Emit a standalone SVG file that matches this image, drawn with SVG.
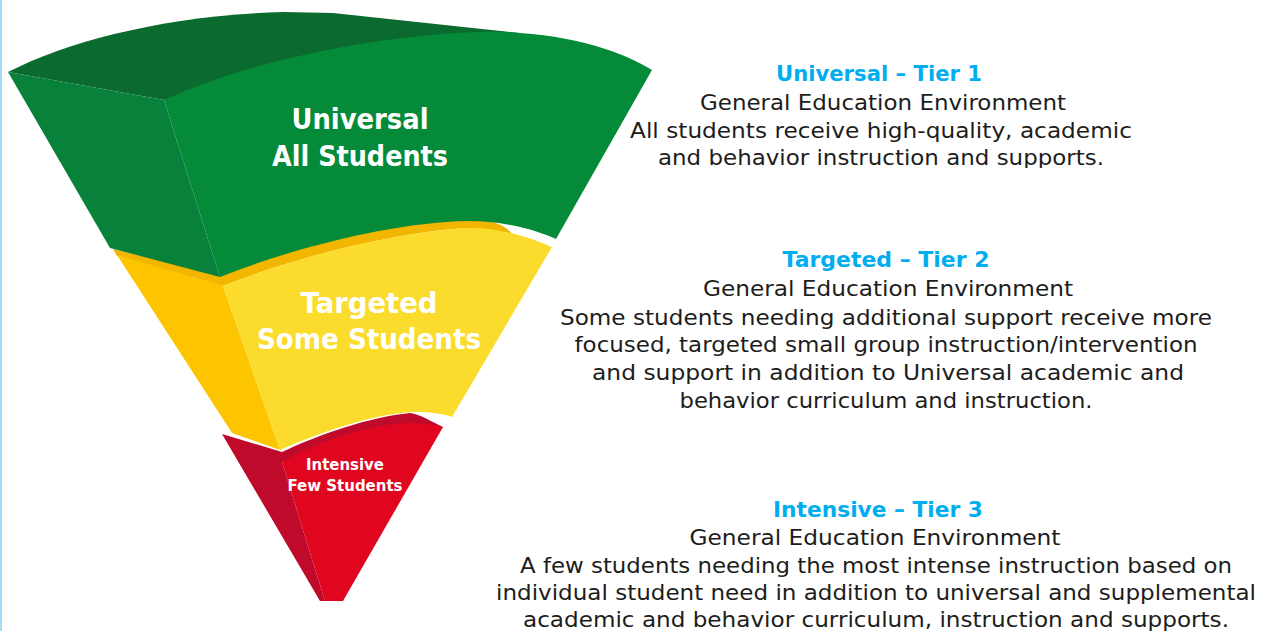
<svg xmlns="http://www.w3.org/2000/svg" width="1264" height="631" viewBox="0 0 1264 631">
<style>
.lbl{font-family:"DejaVu Sans","Liberation Sans",sans-serif;font-weight:bold;fill:#ffffff;text-anchor:middle}
.hd{font-family:"DejaVu Sans","Liberation Sans",sans-serif;font-weight:bold;fill:#00AEEF;font-size:22px;text-anchor:middle}
.bd{font-family:"DejaVu Sans","Liberation Sans",sans-serif;fill:#1d1d1b;font-size:21px;text-anchor:middle}
</style>
<defs>
<clipPath id="clip1"><rect x="0" y="0" width="1264" height="168"/></clipPath>
</defs>
<rect x="0" y="0" width="1264" height="631" fill="#ffffff"/>
<rect x="0" y="0" width="2" height="631" fill="#A3DBF4"/>

<g id="tier3-intensive">
<path d="M222,434 L282,452 C320,434 370,417 410,413 C420,414 432,422 443,427 L282,462 L325,601 L320,601 Z" fill="#BF0A2B"/>
<path d="M282,462 C320,440 370,424 410,423 C425,423 435,425 443,427 L343,601 L325,601 Z" fill="#E1061F"/>
<text class="lbl" x="345" y="470" font-size="15" textLength="78" lengthAdjust="spacingAndGlyphs">Intensive</text>
<text class="lbl" x="345" y="491" font-size="15" textLength="115" lengthAdjust="spacingAndGlyphs">Few Students</text>
</g>

<g id="tier2-targeted">
<path d="M113,249 L220,275 C300,243 400,219 467,219 C492,219 506,225 514,236 L467,228 C400,232 300,255 223,286 L117,256 Z" fill="#F2B500"/>
<path d="M117,255 L223,286 L280,450 L232,433 Z" fill="#FDC400"/>
<path d="M223,286 C300,255 400,232 467,228 C500,227 530,238 552,247 L452,417 C445,414 430,412 415,412 C380,413 330,428 280,450 Z" fill="#FBDC2D"/>
<text class="lbl" x="369" y="313" font-size="28" textLength="137" lengthAdjust="spacingAndGlyphs">Targeted</text>
<text class="lbl" x="369" y="349" font-size="28" textLength="224" lengthAdjust="spacingAndGlyphs">Some Students</text>
</g>

<g id="tier1-universal">
<path d="M8,72 C70,40 170,15 283,12 L333,13 L520,33 L164,100 Z" fill="#0B6A2E"/>
<path d="M8,72 L164,100 L220,277 L110,248 Z" fill="#08823A"/>
<path d="M164,100 C250,60 380,35 480,32 C560,30 620,50 652,70 L556,239 C540,232 510,221 467,221 C400,222 300,245 220,277 Z" fill="#058A3A"/>
<text class="lbl" x="360" y="129" font-size="28" textLength="137" lengthAdjust="spacingAndGlyphs">Universal</text>
<text class="lbl" x="360" y="166" font-size="28" textLength="176" lengthAdjust="spacingAndGlyphs">All Students</text>
</g>

<g id="connectors"></g>

<g id="text-tier1" clip-path="url(#clip1)">
<text class="hd" x="879" y="81" textLength="206" lengthAdjust="spacingAndGlyphs">Universal – Tier 1</text>
<text class="bd" x="883" y="110" textLength="366" lengthAdjust="spacingAndGlyphs">General Education Environment</text>
<text class="bd" x="881" y="138" textLength="502" lengthAdjust="spacingAndGlyphs">All students receive high-quality, academic</text>
<text class="bd" x="881" y="165" textLength="446" lengthAdjust="spacingAndGlyphs">and behavior instruction and supports.</text>
</g>

<g id="text-tier2">
<text class="hd" x="886" y="267" textLength="207" lengthAdjust="spacingAndGlyphs">Targeted – Tier 2</text>
<text class="bd" x="888" y="296" textLength="370" lengthAdjust="spacingAndGlyphs">General Education Environment</text>
<text class="bd" x="886" y="325" textLength="652" lengthAdjust="spacingAndGlyphs">Some students needing additional support receive more</text>
<text class="bd" x="886" y="352" textLength="623" lengthAdjust="spacingAndGlyphs">focused, targeted small group instruction/intervention</text>
<text class="bd" x="888" y="380" textLength="592" lengthAdjust="spacingAndGlyphs">and support in addition to Universal academic and</text>
<text class="bd" x="886" y="408" textLength="413" lengthAdjust="spacingAndGlyphs">behavior curriculum and instruction.</text>
</g>

<g id="text-tier3">
<text class="hd" x="878" y="517" textLength="210" lengthAdjust="spacingAndGlyphs">Intensive – Tier 3</text>
<text class="bd" x="875" y="545" textLength="371" lengthAdjust="spacingAndGlyphs">General Education Environment</text>
<text class="bd" x="876" y="573" textLength="712" lengthAdjust="spacingAndGlyphs">A few students needing the most intense instruction based on</text>
<text class="bd" x="876" y="600" textLength="760" lengthAdjust="spacingAndGlyphs">individual student need in addition to universal and supplemental</text>
<text class="bd" x="876" y="627" textLength="706" lengthAdjust="spacingAndGlyphs">academic and behavior curriculum, instruction and supports.</text>
</g>
</svg>
